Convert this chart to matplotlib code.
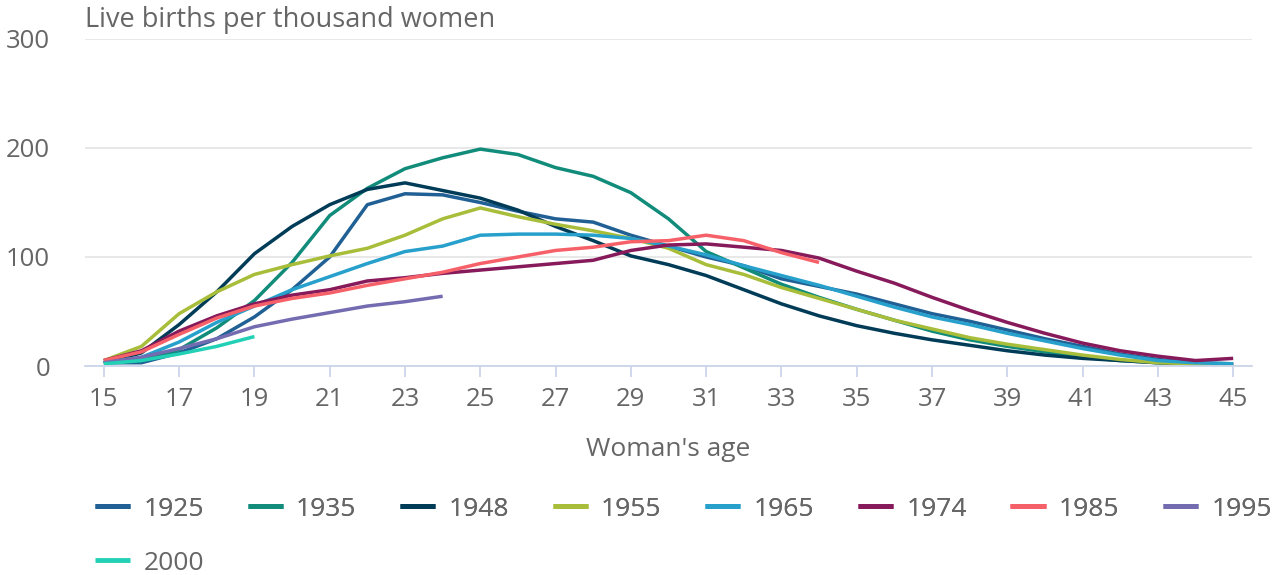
import matplotlib
matplotlib.use("Agg")
import matplotlib.pyplot as plt

plt.rcParams["font.family"] = ["Open Sans", "DejaVu Sans"]

# ---------------------------------------------------------------------------
# Data: live births per thousand women by age of mother, per birth cohort
# ---------------------------------------------------------------------------

cohorts = ["1925", "1935", "1948", "1955", "1965", "1974", "1985", "1995", "2000"]

age_full = list(range(15, 46))

rate_1925 = [3, 3, 12, 25, 45, 70, 100, 148, 158, 157, 150, 142, 135, 132, 120,
             110, 100, 92, 80, 73, 66, 57, 48, 41, 33, 25, 18, 11, 6, 3, 2]
rate_1935 = [3, 5, 15, 35, 60, 95, 138, 163, 181, 191, 199, 194, 182, 174, 159,
             135, 105, 90, 75, 63, 52, 42, 32, 24, 18, 13, 8, 5, 3, 2, 1]
rate_1948 = [3, 12, 38, 68, 103, 128, 148, 162, 168, 161, 154, 143, 128, 115, 101,
             93, 83, 70, 57, 46, 37, 30, 24, 19, 14, 10, 7, 5, 3, 2, 1]
rate_1955 = [5, 18, 48, 68, 84, 93, 101, 108, 120, 135, 145, 137, 130, 124, 117,
             108, 93, 84, 72, 62, 52, 42, 34, 26, 20, 15, 10, 6, 3, 2, 1]
rate_1965 = [3, 8, 22, 40, 55, 70, 82, 94, 105, 110, 120, 121, 121, 120, 117,
             110, 102, 92, 83, 74, 64, 54, 45, 38, 30, 23, 16, 10, 5, 3, 2]
rate_1974 = [5, 14, 32, 46, 57, 65, 70, 78, 81, 85, 88, 91, 94, 97, 106,
             111, 112, 109, 106, 99, 87, 76, 63, 51, 40, 30, 21, 14, 9, 5, 7]

age_1985 = list(range(15, 35))
rate_1985 = [5, 13, 29, 44, 55, 62, 67, 74, 80, 86, 94, 100, 106, 109, 114,
             115, 120, 115, 104, 95]

age_1995 = list(range(15, 25))
rate_1995 = [3, 8, 16, 25, 36, 43, 49, 55, 59, 64]

age_2000 = list(range(15, 20))
rate_2000 = [2, 5, 11, 18, 27]

series = [
    (age_full, rate_1925),
    (age_full, rate_1935),
    (age_full, rate_1948),
    (age_full, rate_1955),
    (age_full, rate_1965),
    (age_full, rate_1974),
    (age_1985, rate_1985),
    (age_1995, rate_1995),
    (age_2000, rate_2000),
]

COLORS = ["#206095", "#118c7b", "#003c57", "#a8bd3a", "#27a0cc",
          "#871a5b", "#f66068", "#746cb1", "#22d0b6"]

TEXT = "#666666"
GRID = "#e6e6e6"
AXIS = "#ccd6eb"

# ---------------------------------------------------------------------------
# Figure
# ---------------------------------------------------------------------------

fig = plt.figure(figsize=(12.77, 5.75), dpi=100)
ax = fig.add_axes([85 / 1277, 1 - 366 / 575, (1252 - 85) / 1277, (366 - 39) / 575])

handles = []
for (x, y), c, lab in zip(series, COLORS, cohorts):
    h, = ax.plot(x, y, color=c, linewidth=2.5, label=lab, solid_capstyle="butt",
                 solid_joinstyle="round")
    handles.append(h)

ax.set_xlim(14.5, 45.5)
ax.set_ylim(0, 300)
ax.set_xticks(range(15, 46, 2))
ax.set_yticks([0, 100, 200, 300])

ax.grid(True, axis="y", color=GRID, linewidth=1.3)
ax.set_axisbelow(True)
for side in ["top", "right", "left"]:
    ax.spines[side].set_visible(False)
ax.spines["bottom"].set_color(AXIS)
ax.spines["bottom"].set_linewidth(1.3)

ax.tick_params(axis="x", direction="out", length=8, width=1.3, color=AXIS,
               labelsize=18.5, labelcolor=TEXT, pad=7)
ax.tick_params(axis="y", length=0, labelsize=18.5, labelcolor=TEXT, pad=25)

ax.set_xlabel("Woman's age", fontsize=19, color=TEXT, labelpad=18)
fig.text(85 / 1277, 1 - 20 / 575, "Live births per thousand women",
         fontsize=19.5, color=TEXT, va="center", ha="left")

leg_kw = dict(frameon=False, fontsize=19, handlelength=1.33, handletextpad=0.5,
              borderaxespad=0, borderpad=0, labelcolor=TEXT)
leg1 = fig.legend(handles[:8], cohorts[:8], ncol=8, columnspacing=1.66,
                  loc="center left", bbox_to_anchor=(95 / 1277, 1 - 509 / 575),
                  **leg_kw)
for line in leg1.get_lines():
    line.set_linewidth(3.5)
leg2 = fig.legend(handles[8:], cohorts[8:], loc="center left",
                  bbox_to_anchor=(95 / 1277, 1 - 563 / 575), **leg_kw)
for line in leg2.get_lines():
    line.set_linewidth(3.5)
fig.add_artist(leg1)

fig.savefig("out.png", dpi=100)
